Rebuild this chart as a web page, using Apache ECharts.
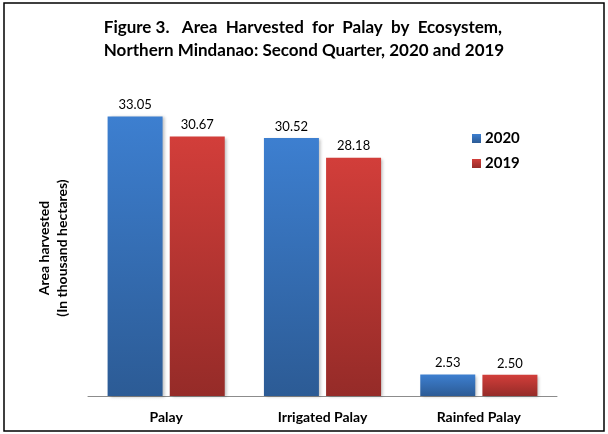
<!DOCTYPE html>
<html>
<head>
<meta charset="utf-8">
<script src="https://cdn.jsdelivr.net/npm/echarts@6/dist/echarts.min.js"></script>
<style>
html,body{margin:0;padding:0;background:#fff;}
#c{width:608px;height:434px;}
</style>
</head>
<body>
<div id="c"></div>
<script>
var categories = ['Palay', 'Irrigated Palay', 'Rainfed Palay'];
var values2020 = [33.05, 30.52, 2.53];
var values2019 = [30.67, 28.18, 2.50];
var seriesNames = ['2020', '2019'];

var chart = echarts.init(document.getElementById('c'));
var FONT = 'Lato, "Open Sans", sans-serif';

function grad(top, bottom) {
  return new echarts.graphic.LinearGradient(0, 0, 0, 1, [
    {offset: 0, color: top},
    {offset: 1, color: bottom}
  ]);
}

var labelCfg = {
  show: true,
  position: 'top',
  distance: 5,
  color: '#000',
  fontSize: 13,
  fontFamily: FONT,
  formatter: function (p) { return p.value.toFixed(2); }
};

chart.setOption({
  animation: false,
  backgroundColor: '#fff',
  title: {
    text: 'Figure 3.   Area  Harvested  for  Palay  by  Ecosystem,\nNorthern Mindanao: Second Quarter, 2020 and 2019',
    left: 'center',
    top: 11,
    textAlign: 'left',
    textStyle: {
      fontFamily: FONT,
      fontSize: 17,
      fontWeight: 'bold',
      color: '#000',
      lineHeight: 23
    }
  },
  graphic: [{
    type: 'rect',
    shape: {x: 4, y: 3, width: 600, height: 428},
    style: {fill: 'none', stroke: '#000', lineWidth: 1.5},
    silent: true
  }],
  legend: {
    orient: 'vertical',
    left: 467,
    top: 126,
    itemWidth: 9,
    itemHeight: 9,
    itemGap: 10,
    icon: 'rect',
    textStyle: {fontFamily: FONT, fontSize: 15, fontWeight: 'bold', color: '#000', padding: [0, 0, 0, -1]},
    data: seriesNames
  },
  grid: {left: 88, right: 51, top: 100, bottom: 38},
  xAxis: {
    type: 'category',
    data: categories,
    axisLine: {lineStyle: {color: '#8c8c8c', width: 1}},
    axisTick: {show: false},
    axisLabel: {fontFamily: FONT, fontSize: 14, fontWeight: 'bold', color: '#000', margin: 14}
  },
  yAxis: {
    type: 'value',
    min: 0,
    max: 35,
    axisLine: {show: false},
    axisTick: {show: false},
    axisLabel: {show: false},
    splitLine: {show: false},
    name: 'Area harvested\n(In thousand hectares)',
    nameLocation: 'middle',
    nameRotate: 90,
    nameGap: 17,
    nameTextStyle: {fontFamily: FONT, fontSize: 14, fontWeight: 'bold', color: '#000', lineHeight: 18}
  },
  series: [{
    name: seriesNames[0],
    type: 'bar',
    data: values2020,
    barWidth: 55,
    barGap: '13%',
    itemStyle: {
      color: grad('#3d7fd0', '#2c5b95'),
      shadowColor: 'rgba(0,0,0,0.25)',
      shadowBlur: 3,
      shadowOffsetX: 2,
      shadowOffsetY: 1
    },
    label: labelCfg
  }, {
    name: seriesNames[1],
    type: 'bar',
    data: values2019,
    barWidth: 55,
    itemStyle: {
      color: grad('#d23e3a', '#952b28'),
      shadowColor: 'rgba(0,0,0,0.25)',
      shadowBlur: 3,
      shadowOffsetX: 2,
      shadowOffsetY: 1
    },
    label: labelCfg
  }]
});
</script>
</body>
</html>
